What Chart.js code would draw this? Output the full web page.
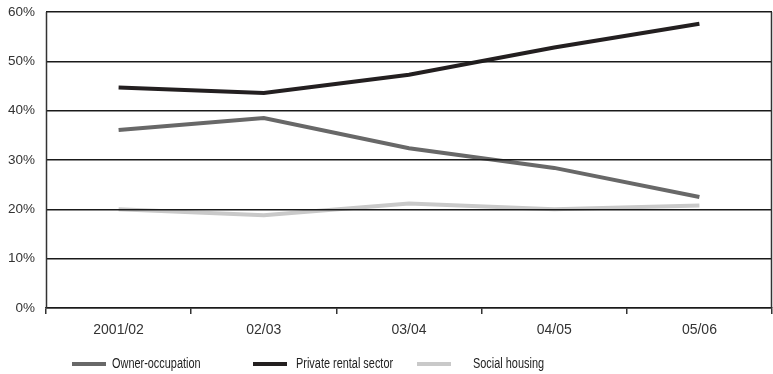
<!DOCTYPE html>
<html>
<head>
<meta charset="utf-8">
<script src="https://cdn.jsdelivr.net/npm/chart.js@4/dist/chart.umd.min.js"></script>
<style>
  html, body { margin: 0; padding: 0; background: #fff; }
  #wrap { width: 773px; height: 374px; position: relative; }
</style>
</head>
<body>
<div id="wrap"><canvas id="c" width="773" height="374"></canvas></div>
<script>
// Share of households by tenure, per survey year
const categories = ['2001/02', '02/03', '03/04', '04/05', '05/06'];
const ownerOccupation = [36.1, 38.5, 32.4, 28.4, 22.5];
const privateRental = [44.7, 43.6, 47.3, 52.8, 57.6];
const socialHousing = [20.0, 18.8, 21.2, 20.0, 20.8];
const yTicks = [0, 10, 20, 30, 40, 50, 60];

const seriesNames = ['Owner-occupation', 'Private rental sector', 'Social housing'];
const seriesColors = ['#686868', '#231f20', '#c9c9c9'];

const FONT = "'Liberation Sans', Arial, sans-serif";

// Left and right frame edges plus a hand-laid legend beneath the plot
const framePlugin = {
  id: 'frame',
  afterDraw(chart) {
    const ctx = chart.ctx;
    const a = chart.chartArea;
    ctx.save();
    ctx.strokeStyle = '#333';
    ctx.lineWidth = 1.5;
    ctx.beginPath();
    ctx.moveTo(a.left + 0.5, a.top);
    ctx.lineTo(a.left + 0.5, a.bottom);
    ctx.moveTo(a.right - 0.5, a.top);
    ctx.lineTo(a.right - 0.5, a.bottom);
    ctx.stroke();

    const y = 364;
    const slots = [72, 253, 417];
    const textGap = [40, 43, 56];
    const squeeze = 0.78; // narrow lettering for the key
    ctx.font = '14px ' + FONT;
    ctx.textBaseline = 'middle';
    ctx.fillStyle = '#222';
    chart.data.datasets.forEach((ds, i) => {
      const x = slots[i];
      ctx.strokeStyle = ds.borderColor;
      ctx.lineWidth = 4;
      ctx.beginPath();
      ctx.moveTo(x, y);
      ctx.lineTo(x + 34, y);
      ctx.stroke();
      ctx.save();
      ctx.translate(x + textGap[i], y);
      ctx.scale(squeeze, 1);
      ctx.fillText(ds.label, 0, 0);
      ctx.restore();
    });
    ctx.restore();
  }
};

new Chart(document.getElementById('c'), {
  type: 'line',
  data: {
    labels: categories,
    datasets: [
      { label: seriesNames[0], data: ownerOccupation, borderColor: seriesColors[0] },
      { label: seriesNames[1], data: privateRental, borderColor: seriesColors[1] },
      { label: seriesNames[2], data: socialHousing, borderColor: seriesColors[2] }
    ].map(d => Object.assign(d, {
      borderWidth: 4, pointRadius: 0, tension: 0, fill: false,
      borderCapStyle: 'butt', borderJoinStyle: 'miter'
    }))
  },
  options: {
    responsive: false,
    animation: false,
    layout: { padding: { top: 12, right: 1, left: 0, bottom: 36 } },
    plugins: { legend: { display: false }, tooltip: { enabled: false } },
    scales: {
      x: {
        offset: true,
        grid: { offset: true, drawOnChartArea: false, drawTicks: true, tickLength: 6, color: '#333', lineWidth: 1.5 },
        border: { display: true, color: '#333', width: 1.5 },
        ticks: { color: '#333', font: { family: FONT, size: 14 }, padding: 8, maxRotation: 0 },
        afterFit(axis) { axis.height = 30; axis.paddingLeft = 0; axis.paddingRight = 0; }
      },
      y: {
        min: 0, max: 60,
        afterBuildTicks(axis) { axis.ticks = yTicks.map(v => ({ value: v })); },
        grid: { color: '#1a1a1a', lineWidth: 1.5, drawTicks: false, z: 1 },
        border: { display: false },
        ticks: { color: '#333', font: { family: FONT, size: 13.5 }, padding: 11, callback: v => v + '%' },
        afterFit(axis) { axis.width = 46; axis.paddingTop = 0; axis.paddingBottom = 0; }
      }
    }
  },
  plugins: [framePlugin]
});
</script>
</body>
</html>
